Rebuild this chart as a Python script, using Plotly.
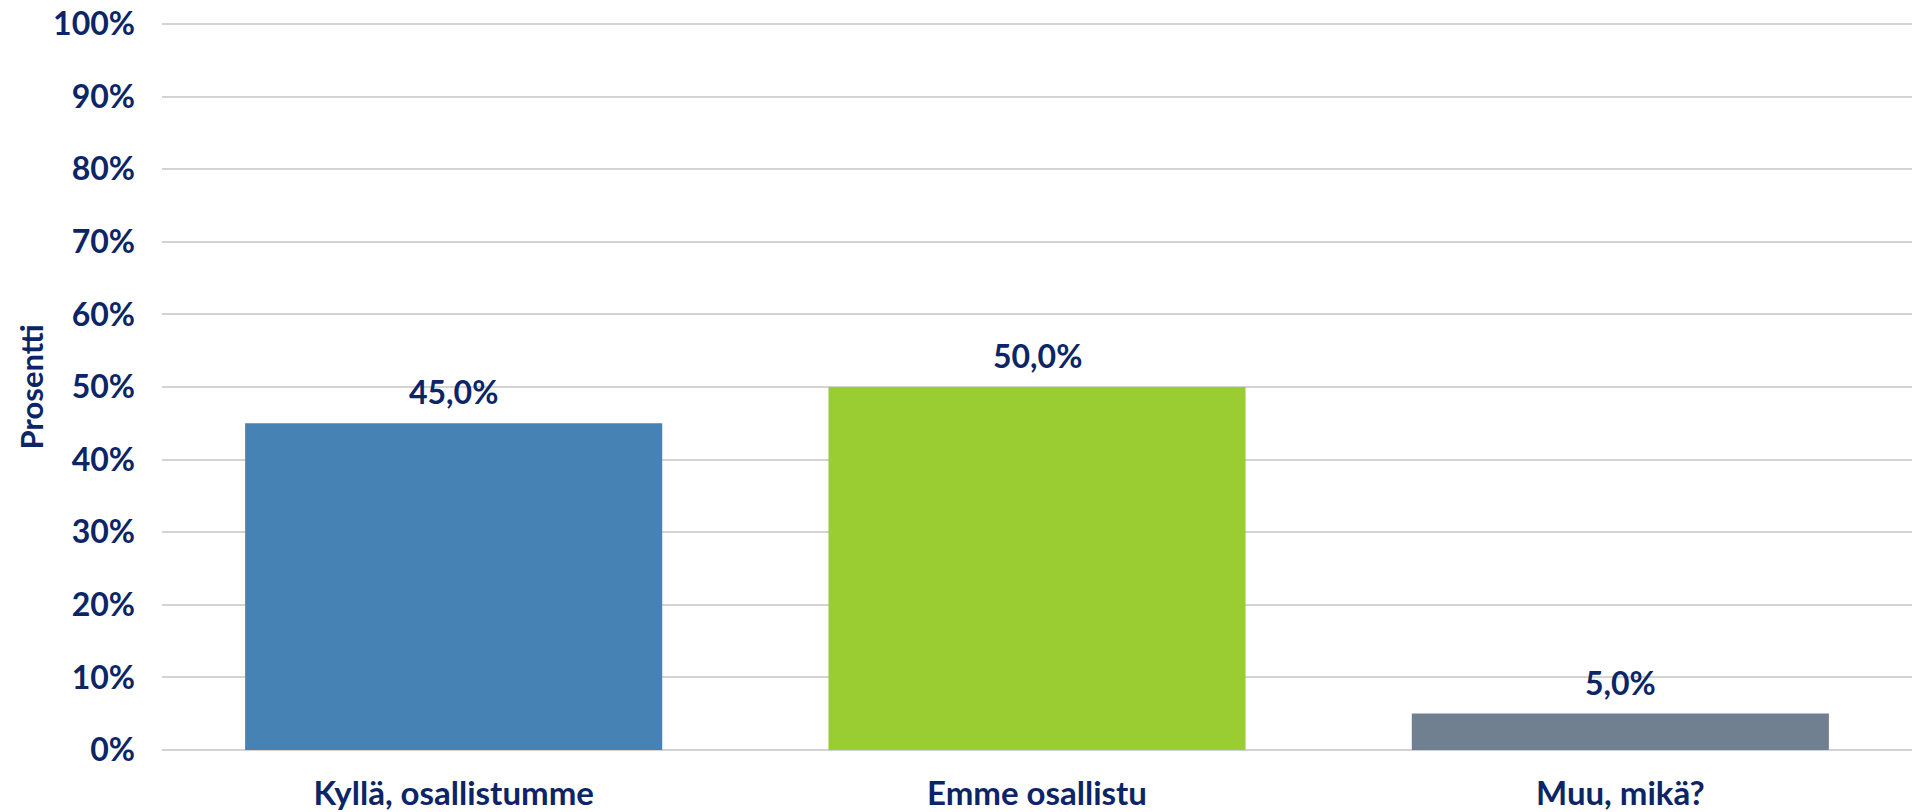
import plotly.graph_objects as go

categories = ["Kyllä, osallistumme", "Emme osallistu", "Muu, mikä?"]
values = [45.0, 50.0, 5.0]
colors = ["#4682B4", "#9ACD32", "#708090"]
tick_vals = [0, 10, 20, 30, 40, 50, 60, 70, 80, 90, 100]
tick_text = [f"{v}%" for v in tick_vals]
labels = [f"{v:.1f}%".replace(".", ",") for v in values]

navy = "#0B2566"
font_family = "Lato, Open Sans, sans-serif"

fig = go.Figure(go.Bar(
    x=categories, y=values, marker=dict(color=colors, line=dict(width=0)),
))

for c, v, t in zip(categories, values, labels):
    fig.add_annotation(x=c, y=v, text=f"<b>{t}</b>", showarrow=False,
                       yanchor="bottom", yshift=10,
                       font=dict(family=font_family, size=32, color=navy))

fig.update_layout(
    width=1924, height=812,
    margin=dict(l=162, r=12, t=23, b=61, autoexpand=False),
    paper_bgcolor="white", plot_bgcolor="white",
    bargap=0.285, showlegend=False,
    font=dict(family=font_family, size=32, color=navy),
)
fig.update_xaxes(showgrid=False, showline=False, ticks="", ticklabelstandoff=20,
                 tickfont=dict(size=33, color=navy, family=font_family, weight="bold"))
fig.update_yaxes(range=[-0.15, 100.15], tickvals=tick_vals, ticktext=tick_text,
                 showgrid=True, gridcolor="#D3D3D3", gridwidth=2,
                 zeroline=False, showline=False, ticks="", ticklabelstandoff=26,
                 ticklabeloverflow="allow",
                 tickfont=dict(size=32, color=navy, family=font_family, weight="bold"),
                 title=dict(text="<b>Prosentti</b>", font=dict(size=31, color=navy, family=font_family), standoff=0))

fig.write_html("out.html", config={"displayModeBar": False},
               post_script="document.body.style.margin='0';")
